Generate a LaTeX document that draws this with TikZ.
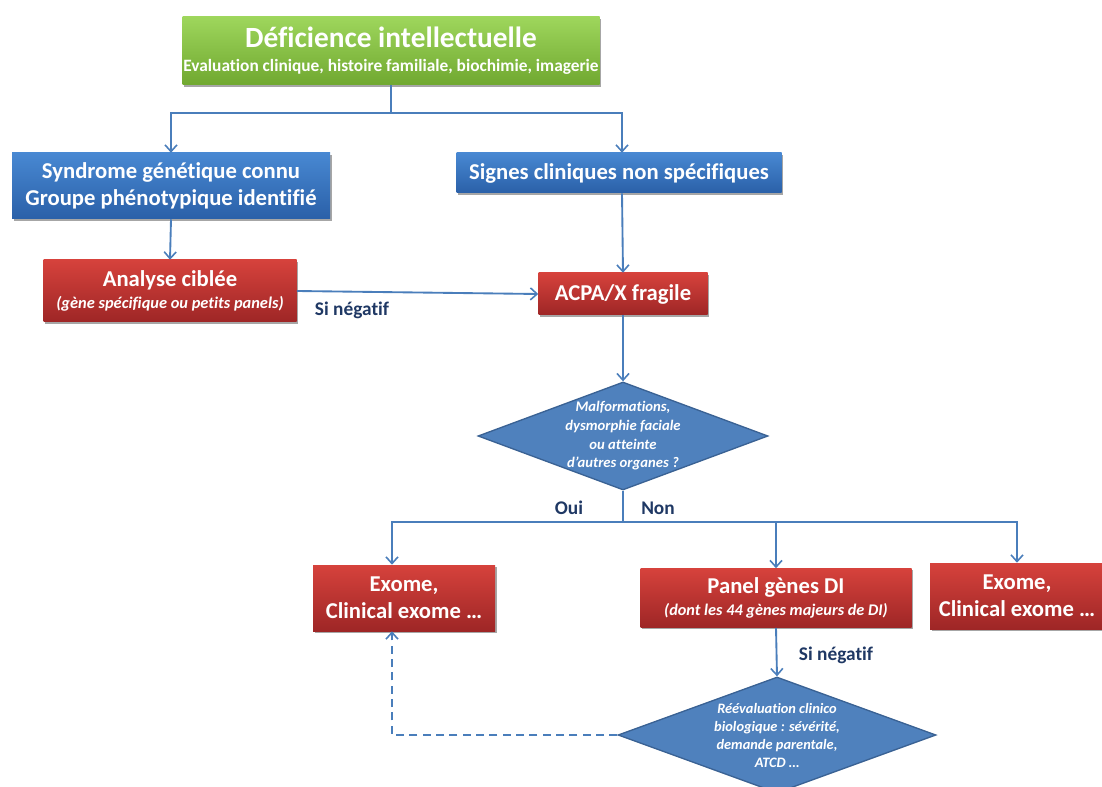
\documentclass[tikz,border=0pt]{standalone}
\usepackage{fontspec}
\setmainfont{Carlito}[Ligatures=NoCommon]
\usetikzlibrary{shapes.geometric,arrows.meta,shadows}
\definecolor{arrowc}{RGB}{74,126,187}
\definecolor{greenT}{RGB}{158,214,92}
\definecolor{greenB}{RGB}{112,168,48}
\definecolor{blueT}{RGB}{72,136,210}
\definecolor{blueB}{RGB}{42,96,168}
\definecolor{redT}{RGB}{214,66,60}
\definecolor{redB}{RGB}{158,38,38}
\definecolor{diaF}{RGB}{79,129,189}
\definecolor{diaD}{RGB}{58,98,148}
\definecolor{navy}{RGB}{31,56,100}
\begin{document}
\begin{tikzpicture}[x=0.75pt,y=-0.75pt,
  box/.style={rectangle, text=white, align=center, inner sep=0pt,
    drop shadow={shadow xshift=1.3pt, shadow yshift=-1.3pt, opacity=0.35, fill=black}},
  greenbox/.style={box, top color=greenT, bottom color=greenB},
  bluebox/.style={box, top color=blueT, bottom color=blueB},
  redbox/.style={box, top color=redT, bottom color=redB},
  dia/.style={diamond, draw=diaD, line width=1pt, fill=diaF, inner sep=0pt},
  diatext/.style={text=white, align=center, font=\bfseries\itshape\fontsize{11}{14}\selectfont},
  boxfont/.style={font=\bfseries\fontsize{17}{20}\selectfont},
  lab/.style={text=navy, font=\bfseries\fontsize{14.5}{16}\selectfont},
  arr/.style={draw=arrowc, line width=1.4pt, -{Straight Barb[length=5pt,width=9pt,line width=1.2pt]}},
  ln/.style={draw=arrowc, line width=1.4pt}
]
\useasboundingbox (0,0) rectangle (1102,787);

% boxes
\node[greenbox, minimum width=312.75pt, minimum height=51pt] (top) at (391,51)
  {{\bfseries\fontsize{22}{23}\selectfont Déficience intellectuelle}\\[6pt]
   {\bfseries\fontsize{13}{14}\selectfont Evaluation clinique, histoire familiale, biochimie, imagerie}};
\node[bluebox, boxfont, minimum width=238.5pt, minimum height=49.5pt] (syn) at (171,186)
  {Syndrome génétique connu\\Groupe phénotypique identifié};
\node[bluebox, boxfont, minimum width=243.75pt, minimum height=30pt] (sig) at (619,173)
  {Signes cliniques non spécifiques};
\node[redbox, minimum width=189.75pt, minimum height=46.5pt] (ana) at (170,291)
  {{\bfseries\fontsize{17}{18}\selectfont Analyse ciblée}\\[4pt]
   {\bfseries\itshape\fontsize{12.3}{14}\selectfont (gène spécifique ou petits panels)}};
\node[redbox, boxfont, minimum width=126.75pt, minimum height=31.5pt] (acpa) at (623,294)
  {ACPA/X fragile};
\node[dia, minimum width=217.5pt, minimum height=81pt] (d1) at (623,436) {};
\node[diatext] (d1t) at (d1.center) {Malformations,\\dysmorphie faciale\\ou atteinte\\d’autres organes ?};
\node[redbox, boxfont, minimum width=136.5pt, minimum height=49.5pt] (exl) at (404,598)
  {Exome,\\Clinical exome …};
\node[redbox, minimum width=203.25pt, minimum height=44.25pt] (pan) at (776,598)
  {{\bfseries\fontsize{17}{18}\selectfont Panel gènes DI}\\[4pt]
   {\bfseries\itshape\fontsize{12.2}{14}\selectfont (dont les 44 gènes majeurs de DI)}};
\node[redbox, boxfont, minimum width=130.5pt, minimum height=49.5pt] (exr) at (1017,596)
  {Exome,\\Clinical exome …};
\node[dia, minimum width=238.5pt, minimum height=87pt] (d2) at (777,735) {};
\node[diatext, font=\bfseries\itshape\fontsize{10.8}{13.5}\selectfont] (d2t) at (d2.center) {Réévaluation clinico\\biologique : sévérité,\\demande parentale,\\ATCD …};

% connectors
\coordinate (s1) at (391,113);
\draw[ln] (top.south) -- (s1);
\draw[arr] (s1) -| (syn.north);
\draw[arr] (s1) -| ([xshift=2.25pt]sig.north);
\draw[arr] (syn.south) -- (ana.north);
\draw[arr] ([xshift=2.25pt]sig.south) -- (acpa.north);
\draw[arr] (ana.east) -- (acpa.west);
\draw[arr] (acpa.south) -- (d1.north);
\coordinate (s2) at (623,522);
\draw[ln] (d1.south) -- (s2);
\draw[arr] (s2) -| ([xshift=-9pt]exl.north);
\draw[arr] (s2) -| (pan.north);
\draw[arr] (s2) -| (exr.north);
\draw[arr] (pan.south) -- (d2.north);
\draw[arr, dashed, dash pattern=on 6pt off 4pt] (d2.west) -| ([xshift=-9pt]exl.south);

% labels
\node[lab] (sn1) at (352,310) {Si négatif};
\node[lab] (oui) at (569,508) {Oui};
\node[lab] (non) at (658,508) {Non};
\node[lab] (sn2) at (836,655) {Si négatif};
\end{tikzpicture}
\end{document}
